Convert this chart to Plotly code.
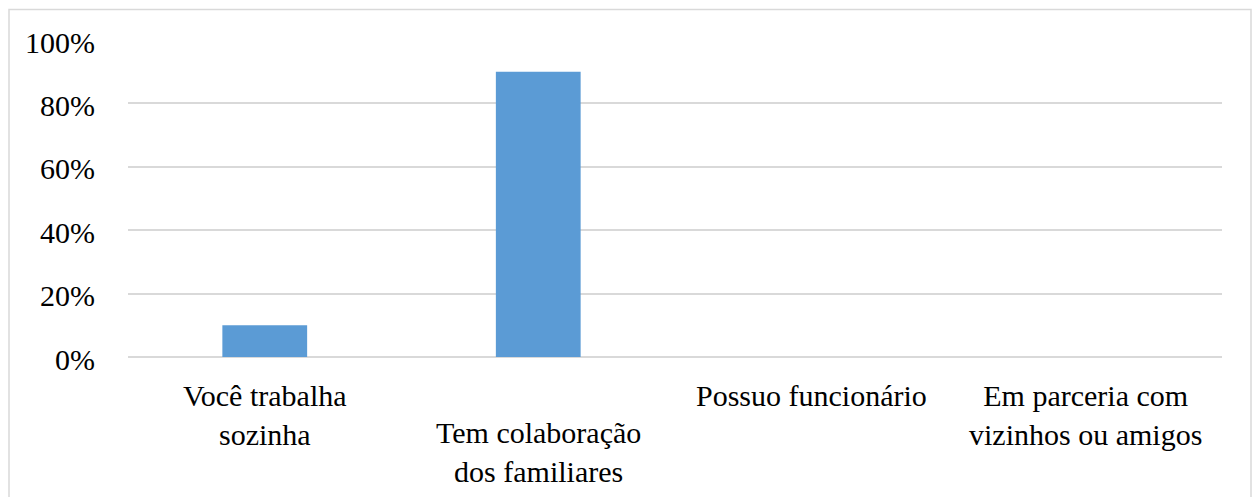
import plotly.graph_objects as go

categories = [
    "Você trabalha sozinha",
    "Tem colaboração dos familiares",
    "Possuo funcionário",
    "Em parceria com vizinhos ou amigos",
]
# Axis labels, wrapped
tick_labels = [
    "Você trabalha<br>sozinha",
    "Tem colaboração<br>dos familiares",
    "Possuo funcionário",
    "Em parceria com<br>vizinhos ou amigos",
]
# Staggered label rows so neighbouring labels do not collide
label_rows = [0, 1, 0, 0]
values = [0.10, 0.90, 0.0, 0.0]
y_ticks = [0, 0.2, 0.4, 0.6, 0.8, 1.0]

W, H = 1256, 497
ML, MR, MT, MB = 128, 34, 39.5, 140
pw, ph = W - ML - MR, H - MT - MB

FAMILY = "Times New Roman"
FONT = dict(family=FAMILY, size=30, color="#000000")

fig = go.Figure(
    go.Bar(
        x=categories,
        y=values,
        marker=dict(color="#5b9bd5", line=dict(width=0)),
        width=0.31,
    )
)

fig.update_layout(
    width=W,
    height=H,
    margin=dict(l=ML, r=MR, t=MT, b=MB, autoexpand=False),
    paper_bgcolor="white",
    plot_bgcolor="white",
    font=FONT,
    showlegend=False,
)
fig.update_xaxes(
    showticklabels=False,
    showgrid=False,
    showline=False,
    zeroline=False,
    ticks="",
)
fig.update_yaxes(
    range=[0, 1.0],
    tickvals=y_ticks,
    showticklabels=False,
    showgrid=True,
    gridcolor="#d9d9d9",
    gridwidth=1.5,
    zeroline=True,
    zerolinecolor="#d9d9d9",
    zerolinewidth=1.5,
    showline=False,
    ticks="",
)

# Category labels under the axis
for cat, lab, row in zip(categories, tick_labels, label_rows):
    fig.add_annotation(
        x=cat, xref="x",
        y=0, yref="paper",
        yanchor="top", xanchor="center",
        yshift=-20 - 37 * row,
        text=lab, showarrow=False,
        font=FONT, align="center",
    )

# Percentage labels on the value axis
for v in y_ticks:
    fig.add_annotation(
        x=(97 - ML) / pw, xref="paper",
        y=v, yref="y",
        xanchor="right", yanchor="middle",
        yshift=-2,
        text=f"{v:.0%}", showarrow=False,
        font=FONT,
    )

# Chart frame
fig.add_shape(
    type="rect",
    xref="paper",
    yref="paper",
    x0=(9 - ML) / pw,
    x1=(1251 - ML) / pw,
    y0=(H - MB - 499) / ph,
    y1=(H - MB - 9) / ph,
    line=dict(color="#d9d9d9", width=1.5),
    fillcolor="rgba(0,0,0,0)",
    layer="below",
)

fig.write_html("out.html")
